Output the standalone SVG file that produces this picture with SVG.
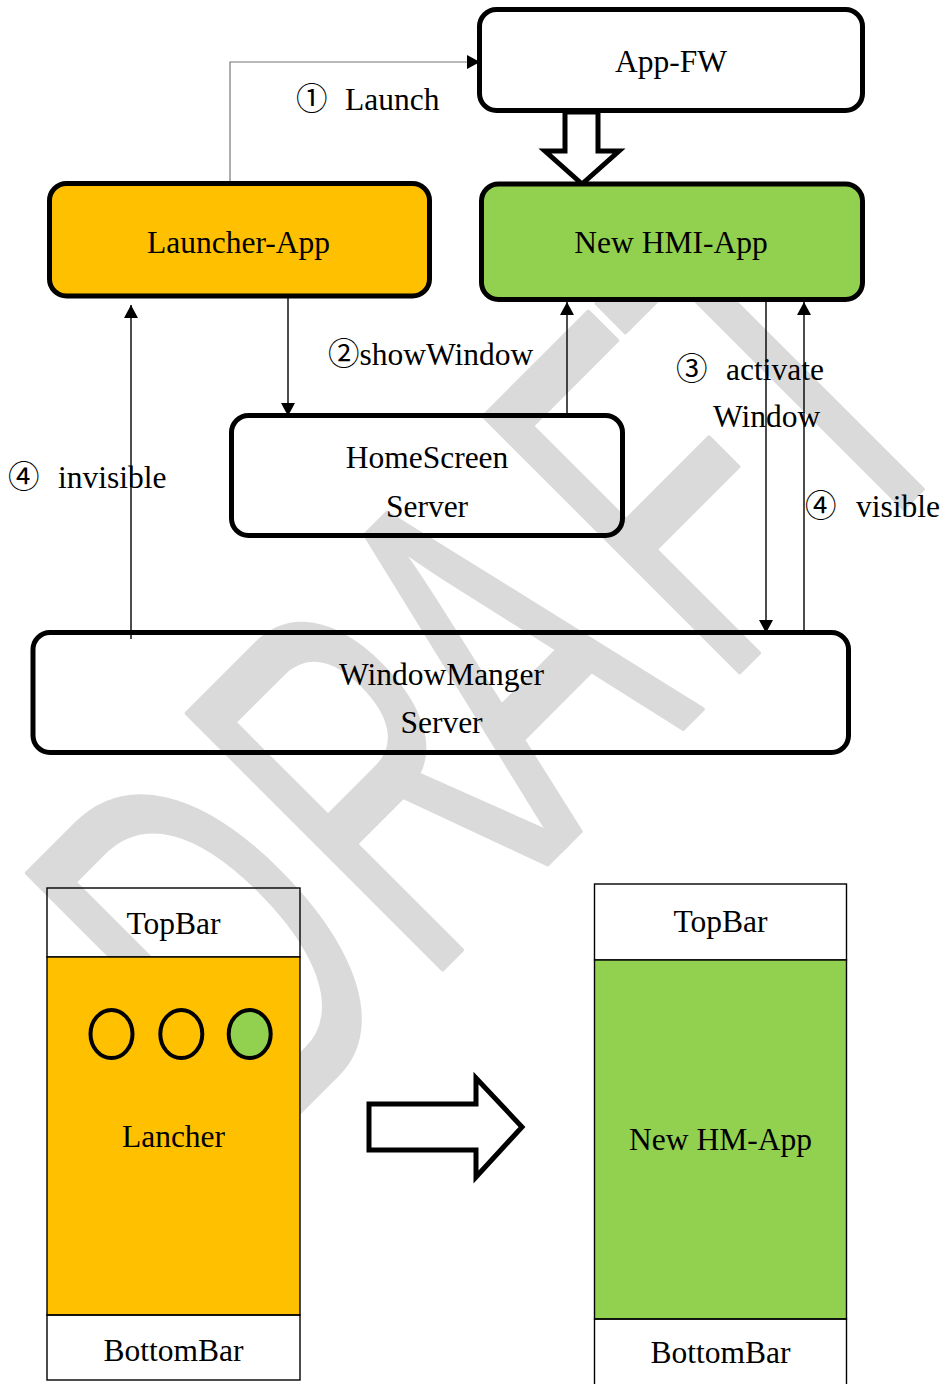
<svg xmlns="http://www.w3.org/2000/svg" width="945" height="1384" viewBox="0 0 945 1384">
<style>
.t{font-family:"Liberation Serif","Noto Sans CJK SC",serif;font-size:31.5px;fill:#000}
.m{text-anchor:middle}
.box{fill:none;stroke:#000;stroke-width:5}
.cn{fill:none;stroke:#000;stroke-width:1.4}
.bar{fill:none;stroke:#000;stroke-width:1.4}
.wm{font-family:"Liberation Sans",Arial,sans-serif;font-size:525px;fill:#dadada;stroke:#dadada;stroke-width:4;stroke-linejoin:round}
</style>
<defs>
<marker id="ah" markerWidth="13" markerHeight="14" refX="13" refY="7" orient="auto" markerUnits="userSpaceOnUse"><path d="M0,0 L13,7 L0,14 z" fill="#000"/></marker>
<clipPath id="wmclip"><rect x="0" y="300" width="945" height="1084"/></clipPath>
</defs>
<rect width="945" height="1384" fill="#fff"/>
<g id="watermark" clip-path="url(#wmclip)">
<text class="wm" transform="rotate(-45) scale(0.581,1)" x="-1074 -685 -356 38 344" y="998" vector-effect="non-scaling-stroke">DRAFT</text>
</g>
<g id="connectors">
<polyline points="230,181 230,62 467,62" fill="none" stroke="#777" stroke-width="1.2"/>
<path d="M467,55 L480,62 L467,69 z" fill="#000"/>
<line class="cn" x1="288" y1="298" x2="288" y2="416" marker-end="url(#ah)"/>
<line class="cn" x1="567" y1="415" x2="567" y2="302" marker-end="url(#ah)"/>
<line class="cn" x1="766" y1="300" x2="766" y2="633" marker-end="url(#ah)"/>
<line class="cn" x1="804" y1="632" x2="804" y2="302" marker-end="url(#ah)"/>
<line class="cn" x1="131" y1="639" x2="131" y2="305" marker-end="url(#ah)"/>
<polygon points="565,112 598,112 598,151 619,151 582,184 545,151 565,151" fill="#fff" stroke="#000" stroke-width="5"/>
<polygon points="369,1104 476,1104 476,1078 522,1127 476,1177 476,1150 369,1150" fill="#fff" stroke="#000" stroke-width="5"/>
</g>
<g id="appfw">
<rect class="box" x="479.5" y="9.5" width="383" height="101" rx="17"/>
<text class="t m" x="671" y="72">App-FW</text>
</g>
<g id="launcher">
<rect class="box" x="49.5" y="183.5" width="380" height="112.5" rx="17" style="fill:#ffc000"/>
<text class="t m" x="238.5" y="253">Launcher-App</text>
</g>
<g id="newhmi">
<rect class="box" x="481.5" y="184" width="381" height="115.5" rx="17" style="fill:#92d050"/>
<text class="t m" x="671" y="253">New HMI-App</text>
</g>
<g id="homescreen">
<rect class="box" x="231.5" y="415.5" width="391" height="120" rx="17"/>
<text class="t m" x="427" y="468">HomeScreen</text>
<text class="t m" x="427" y="517">Server</text>
</g>
<g id="windowmanager">
<rect class="box" x="33" y="632.5" width="815.5" height="120" rx="17"/>
<text class="t m" x="441.5" y="685">WindowManger</text>
<text class="t m" x="441.5" y="733">Server</text>
</g>
<g id="labels">
<text class="t" x="296" y="110">①<tspan x="345">Launch</tspan></text>
<text class="t" x="328" y="365">②showWindow</text>
<text class="t" x="676" y="380">③<tspan x="726">activate</tspan></text>
<text class="t" x="713" y="427">Window</text>
<text class="t" x="805" y="517">④<tspan x="856">visible</tspan></text>
<text class="t" x="8" y="488">④<tspan x="58">invisible</tspan></text>
</g>
<g id="screen-launcher">
<rect class="bar" x="47" y="888" width="253" height="69"/>
<rect class="bar" x="47" y="957" width="253" height="358" style="fill:#ffc000"/>
<rect class="bar" x="47" y="1315" width="253" height="65"/>
<ellipse cx="111.5" cy="1034" rx="21" ry="24" fill="none" stroke="#000" stroke-width="4"/>
<ellipse cx="181.3" cy="1034" rx="21" ry="24" fill="none" stroke="#000" stroke-width="4"/>
<ellipse cx="249.7" cy="1034" rx="21" ry="24" fill="#92d050" stroke="#000" stroke-width="4"/>
<text class="t m" x="173.5" y="934">TopBar</text>
<text class="t m" x="173.5" y="1147">Lancher</text>
<text class="t m" x="173.5" y="1361">BottomBar</text>
</g>
<g id="screen-newhmi">
<rect class="bar" x="594.5" y="884" width="252" height="76"/>
<rect class="bar" x="594.5" y="960" width="252" height="359" style="fill:#92d050"/>
<rect class="bar" x="594.5" y="1319" width="252" height="80"/>
<text class="t m" x="720.5" y="932">TopBar</text>
<text class="t m" x="720.5" y="1150">New HM-App</text>
<text class="t m" x="720.5" y="1363">BottomBar</text>
</g>
</svg>
